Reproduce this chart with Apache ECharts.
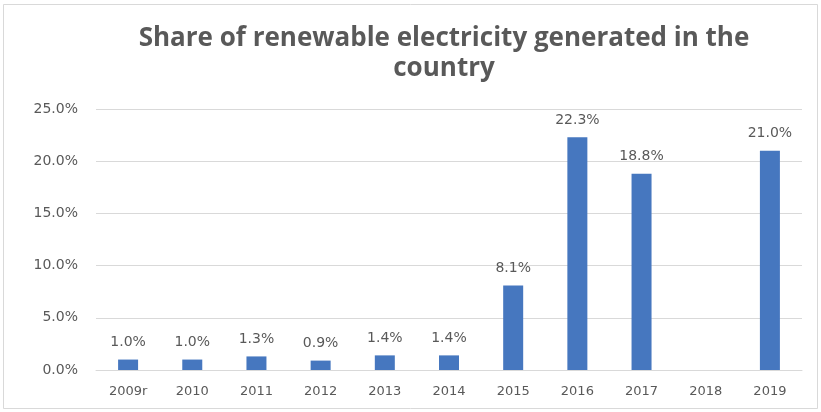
<!DOCTYPE html>
<html><head><meta charset="utf-8">
<script src="https://cdn.jsdelivr.net/npm/echarts@6/dist/echarts.min.js"></script>
<style>html,body{margin:0;padding:0;background:#fff}#c{width:821px;height:412px}</style>
</head><body><div id="c"></div>
<script>
const categories = ['2009r','2010','2011','2012','2013','2014','2015','2016','2017','2018','2019'];
const shares = [1.0, 1.0, 1.3, 0.9, 1.4, 1.4, 8.1, 22.3, 18.8, null, 21.0];
const yTicks = [0, 5, 10, 15, 20, 25];
const titleText = 'Share of renewable electricity generated in the\ncountry';

const chart = echarts.init(document.getElementById('c'), null, {renderer:'canvas'});
chart.setOption({
  animation: false,
  backgroundColor: '#fff',
  graphic: [{type:'rect', shape:{x:3.5,y:4.5,width:814,height:404}, style:{fill:null, stroke:'#d9d9d9', lineWidth:1}}],
  title: {
    text: titleText, left: 439, textAlign: 'center', top: 19,
    textStyle: {fontFamily:'Open Sans', fontWeight:'bold', fontSize:26, color:'#595959', lineHeight:30}
  },
  grid: {left: 96, right: 19, top: 109, bottom: 42, containLabel: false},
  xAxis: {
    type:'category', data: categories,
    axisLine:{lineStyle:{color:'#d9d9d9'}}, axisTick:{show:false},
    axisLabel:{color:'#595959', fontFamily:'DejaVu Sans', fontSize:13, margin:15}
  },
  yAxis: {
    type:'value', min: yTicks[0], max: yTicks[yTicks.length-1], interval: 5,
    axisLine:{show:false}, axisTick:{show:false},
    splitLine:{lineStyle:{color:'#d9d9d9'}},
    axisLabel:{color:'#595959', fontFamily:'DejaVu Sans', fontSize:14, margin:18, formatter: v => v.toFixed(1)+'%'}
  },
  series: [{
    type:'bar', data: shares, barWidth: 20,
    itemStyle:{color:'#4677BF'},
    label:{show:true, position:'top', distance:10, color:'#595959', fontFamily:'DejaVu Sans', fontSize:14, formatter: p => p.value.toFixed(1)+'%'}
  }]
});
</script></body></html>
